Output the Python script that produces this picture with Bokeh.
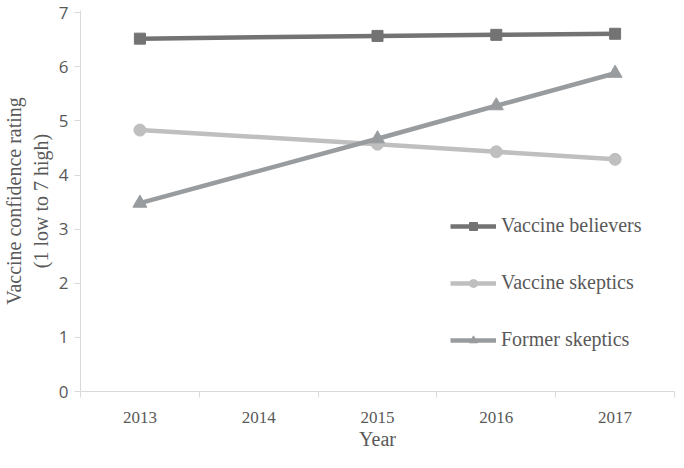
from bokeh.plotting import figure
from bokeh.models import FixedTicker, Legend, LegendItem, Range1d
from bokeh.embed import file_html
from bokeh.resources import INLINE

years = [2013, 2014, 2015, 2016, 2017]
data_years = [2013, 2015, 2016, 2017]
believers = [6.52, 6.57, 6.59, 6.61]
skeptics = [4.83, 4.57, 4.43, 4.29]
former = [3.48, 4.67, 5.28, 5.88]
names = ["Vaccine believers", "Vaccine skeptics", "Former skeptics"]

p = figure(width=676, height=452, output_backend="svg", toolbar_location=None,
           x_range=Range1d(years[0] - 0.5, years[-1] + 0.5), y_range=Range1d(0, 7.04),
           min_border_left=74, min_border_right=2, min_border_top=10, min_border_bottom=58)
p.outline_line_color = None
p.xgrid.visible = False
p.ygrid.visible = False

axis_col = "#d9d9d9"
text_col = "#595959"

p.xaxis.ticker = FixedTicker(ticks=years, minor_ticks=[y - 0.5 for y in years] + [years[-1] + 0.5])
p.xaxis.axis_line_color = axis_col
p.xaxis.major_tick_line_color = None
p.xaxis.minor_tick_line_color = axis_col
p.xaxis.minor_tick_out = 6
p.xaxis.minor_tick_in = 0
p.xaxis.major_label_text_font = "Liberation Serif"
p.xaxis.major_label_text_font_size = "17px"
p.xaxis.major_label_text_color = text_col
p.xaxis.major_label_standoff = 14
p.xaxis.axis_label = "Year"
p.xaxis.axis_label_text_font = "Liberation Serif"
p.xaxis.axis_label_text_font_size = "20px"
p.xaxis.axis_label_text_font_style = "normal"
p.xaxis.axis_label_text_color = text_col
p.xaxis.axis_label_standoff = 2

p.yaxis.ticker = FixedTicker(ticks=list(range(0, 8)))
p.yaxis.axis_line_color = axis_col
p.yaxis.major_tick_line_color = axis_col
p.yaxis.major_tick_out = 6
p.yaxis.major_tick_in = 0
p.yaxis.minor_tick_line_color = None
p.yaxis.major_label_text_font = "Open Sans"
p.yaxis.major_label_text_font_size = "17px"
p.yaxis.major_label_text_color = text_col
p.yaxis.major_label_standoff = 6
p.yaxis.axis_label = "Vaccine confidence rating\n(1 low to 7 high)"
p.yaxis.axis_label_text_font = "Liberation Serif"
p.yaxis.axis_label_text_font_size = "20px"
p.yaxis.axis_label_text_font_style = "normal"
p.yaxis.axis_label_text_color = text_col
p.yaxis.axis_label_standoff = 4

c_bel = "#737373"
c_ske = "#bfbfbf"
c_for = "#999c9f"

l1 = p.line(data_years, believers, line_color=c_bel, line_width=4.5)
m1 = p.scatter(data_years, believers, marker="square", size=11, color=c_bel)
l2 = p.line(data_years, skeptics, line_color=c_ske, line_width=4.5)
m2 = p.scatter(data_years, skeptics, marker="circle", size=12, color=c_ske)
l3 = p.line(data_years, former, line_color=c_for, line_width=4.5)
m3 = p.scatter(data_years, former, marker="triangle", size=14, color=c_for)

legend = Legend(items=[LegendItem(label=names[0], renderers=[l1, m1]),
                       LegendItem(label=names[1], renderers=[l2, m2]),
                       LegendItem(label=names[2], renderers=[l3, m3])],
                location=(370, 40), padding=0, margin=0, spacing=34,
                glyph_width=46, glyph_height=20, label_height=20, label_standoff=5,
                label_text_font="Liberation Serif", label_text_font_size="20px",
                label_text_color=text_col, border_line_color=None, background_fill_alpha=0)
p.add_layout(legend)

open("out.html", "w").write(file_html(p, INLINE))
